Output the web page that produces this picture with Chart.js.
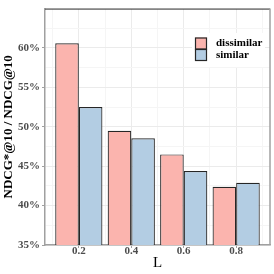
<!DOCTYPE html>
<html>
<head>
<meta charset="utf-8">
<script src="https://cdn.jsdelivr.net/npm/chart.js@4.4.0/dist/chart.umd.min.js"></script>
<style>
  html, body { margin: 0; padding: 0; background: #fff; }
  #wrap { width: 274px; height: 274px; }
</style>
</head>
<body>
<div id="wrap"><canvas id="chart"></canvas></div>
<script>
// values (NDCG ratio in %)
const L = [0.2, 0.4, 0.6, 0.8];
const dissimilar = [60.6, 49.5, 46.5, 42.4];
const similar = [52.5, 48.55, 44.4, 42.9];
const seriesNames = ['dissimilar', 'similar'];
const xMajor = [0.2, 0.4, 0.6, 0.8];
const xMinor = [0.1, 0.3, 0.5, 0.7, 0.9];
const yMajor = [35, 40, 45, 50, 55, 60];

const serif = "'Liberation Serif', 'DejaVu Serif', serif";
const majorGrid = '#ebebeb';
const minorGrid = '#f5f5f5';
const axisGray = '#a0a0a0';
const barEdge = '#262626';

const tickVal = (c) => (c && c.tick ? c.tick.value : null);

// legend drawn inside the panel, on a white box
const boxLegend = {
  id: 'boxLegend',
  afterDraw(chart) {
    const ctx = chart.ctx;
    const x0 = 192, y0 = 33;
    ctx.save();
    ctx.fillStyle = '#fff';
    ctx.fillRect(x0, y0, 73, 34);
    chart.data.datasets.forEach((ds, i) => {
      const ky = y0 + 4.5 + i * 11.5;
      ctx.fillStyle = ds.backgroundColor;
      ctx.fillRect(x0 + 3, ky, 12, 11.5);
      ctx.strokeStyle = barEdge;
      ctx.lineWidth = 1.2;
      ctx.strokeRect(x0 + 3.5, ky + 0.5, 11, 11);
      ctx.fillStyle = '#000';
      ctx.font = 'bold 11px ' + serif;
      ctx.textBaseline = 'middle';
      ctx.fillText(ds.label, x0 + 24, ky + 6);
    });
    ctx.restore();
  }
};

// top and right edges of the panel
const panelFrame = {
  id: 'panelFrame',
  afterDraw(chart) {
    const { left, top, right, bottom } = chart.chartArea;
    const ctx = chart.ctx;
    ctx.save();
    ctx.strokeStyle = '#333';
    ctx.lineWidth = 1;
    ctx.beginPath();
    ctx.moveTo(left, top + 0.5);
    ctx.lineTo(right, top + 0.5);
    ctx.stroke();
    ctx.strokeStyle = axisGray;
    ctx.lineWidth = 1.5;
    ctx.beginPath();
    ctx.moveTo(right, top);
    ctx.lineTo(right, bottom);
    ctx.stroke();
    ctx.restore();
  }
};

const ctx = document.getElementById('chart').getContext('2d');

new Chart(ctx, {
  type: 'bar',
  data: {
    datasets: [
      {
        label: seriesNames[0],
        data: L.map((x, i) => ({ x: x, y: dissimilar[i] })),
        backgroundColor: '#FBB4AE',
        borderColor: barEdge,
        borderWidth: 1.2,
        borderSkipped: false,
      },
      {
        label: seriesNames[1],
        data: L.map((x, i) => ({ x: x, y: similar[i] })),
        backgroundColor: '#B3CDE3',
        borderColor: barEdge,
        borderWidth: 1.2,
        borderSkipped: false,
      },
    ],
  },
  options: {
    responsive: true,
    maintainAspectRatio: false,
    animation: false,
    // the bar ruler measures spacing between the 0.1-apart (minor) ticks,
    // so 1.8 of that = 0.9 of the 0.2 spacing between data points
    categoryPercentage: 1.8,
    barPercentage: 1.0,
    layout: { padding: { top: 4, right: 4, left: 0, bottom: 0 } },
    plugins: {
      legend: { display: false },
      tooltip: { enabled: false },
    },
    scales: {
      x: {
        type: 'linear',
        offset: false,
        min: 0.071,
        max: 0.929,
        afterBuildTicks: (axis) => {
          axis.ticks = [...xMinor, ...xMajor].sort((a, b) => a - b).map(v => ({ value: v }));
        },
        afterFit: (axis) => { axis.height = 29; },
        grid: {
          offset: false,
          color: (c) => xMajor.includes(tickVal(c)) ? majorGrid : minorGrid,
          tickColor: (c) => xMajor.includes(tickVal(c)) ? axisGray : 'rgba(0,0,0,0)',
          tickLength: 3,
        },
        border: { color: axisGray, width: 1.5 },
        ticks: {
          autoSkip: false,
          maxRotation: 0,
          padding: -3,
          color: '#4d4d4d',
          font: { family: serif, size: 11, weight: 'bold' },
          callback: (v) => xMajor.includes(v) ? v.toFixed(1) : '',
        },
        title: {
          display: true,
          text: 'L',
          color: '#000',
          padding: { top: 0, bottom: 2 },
          font: { family: serif, size: 15 },
        },
      },
      y: {
        min: 35,
        max: 65,
        afterFit: (axis) => { axis.width = 45; },
        grid: {
          color: (c) => tickVal(c) !== null && tickVal(c) % 5 === 0 ? majorGrid : minorGrid,
          tickColor: (c) => yMajor.includes(tickVal(c)) ? axisGray : 'rgba(0,0,0,0)',
          tickLength: 3,
        },
        border: { color: axisGray, width: 1.5 },
        ticks: {
          stepSize: 2.5,
          padding: 2,
          color: '#4d4d4d',
          font: { family: serif, size: 11, weight: 'bold' },
          callback: (v) => yMajor.includes(v) ? v + '%' : '',
        },
        title: {
          display: true,
          text: 'NDCG*@10 / NDCG@10',
          color: '#000',
          padding: { top: 1, bottom: 0 },
          font: { family: serif, size: 13, weight: 'bold' },
        },
      },
    },
  },
  plugins: [boxLegend, panelFrame],
});
</script>
</body>
</html>
